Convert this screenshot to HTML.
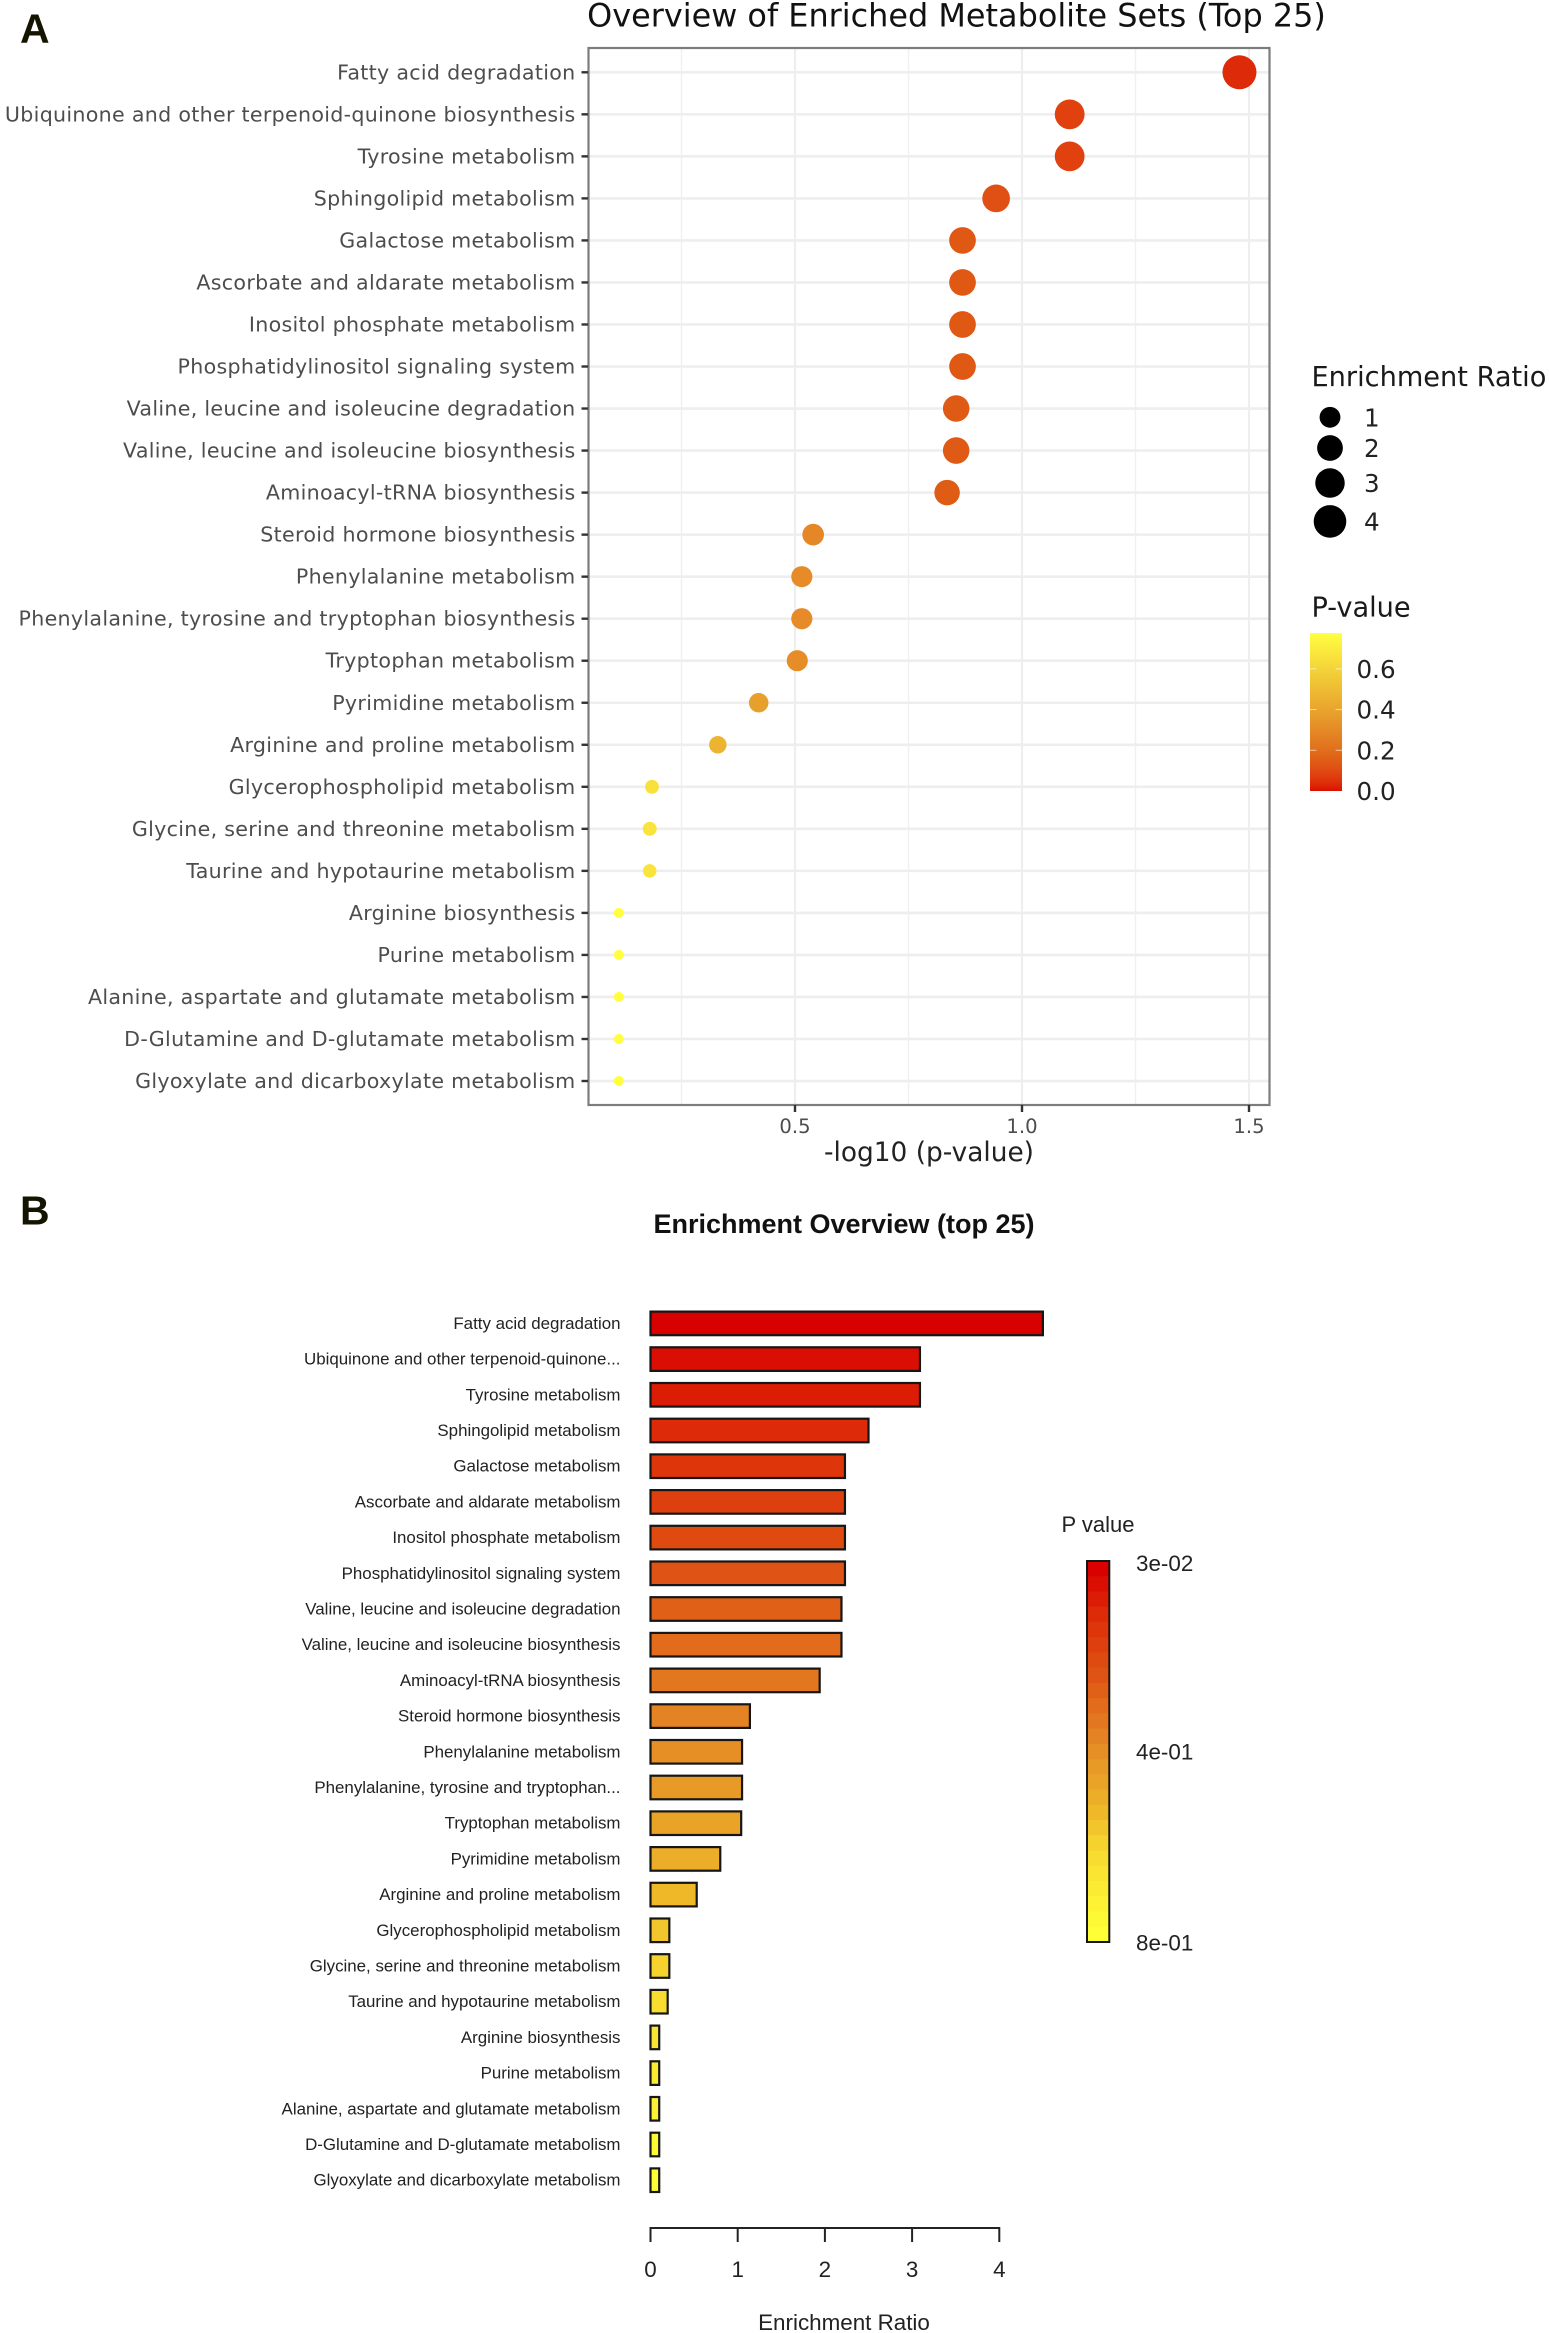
<!DOCTYPE html>
<html lang="en">
<head>
<meta charset="utf-8">
<title>Enriched Metabolite Sets</title>
<style>
html,body{margin:0;padding:0;background:#fff;}
svg{display:block;}
.dj{font-family:"DejaVu Sans",sans-serif;}
.lb{font-family:"Liberation Sans",sans-serif;}
</style>
</head>
<body>
<svg id="fig" width="1549" height="2333" viewBox="0 0 1549 2333" xmlns="http://www.w3.org/2000/svg">
  <rect x="0" y="0" width="1549" height="2333" fill="#fff"/>
  <text class="lb" x="20" y="42.5" font-size="41" font-weight="bold" fill="#141400">A</text>
  <text class="lb" x="20" y="1224.5" font-size="41" font-weight="bold" fill="#141400">B</text>

  <text class="dj" x="956.5" y="26.5" font-size="31.9" text-anchor="middle" fill="#111">Overview of Enriched Metabolite Sets (Top 25)</text>
  <g id="dotGrid"></g>
  <g id="dotMarks"></g>
  <rect x="588.5" y="48" width="681" height="1057" fill="none" stroke="#7c7c7c" stroke-width="2.2"/>
  <g id="dotYAxis"></g>
  <g id="dotXAxis"></g>
  <text class="dj" x="929" y="1161" font-size="26.4" text-anchor="middle" fill="#222">-log10 (p-value)</text>

  <text class="dj" x="1311.5" y="386" font-size="27.2" fill="#1a1a1a">Enrichment Ratio</text>
  <g id="sizeLegend"></g>
  <text class="dj" x="1311.5" y="616.5" font-size="27.2" fill="#1a1a1a">P-value</text>
  <defs>
    <linearGradient id="pGrad" x1="0" y1="1" x2="0" y2="0"></linearGradient>
  </defs>
  <rect x="1310" y="633" width="32" height="158" fill="url(#pGrad)"/>
  <g id="colorLegend"></g>

  <text class="lb" x="844" y="1233" font-size="27" font-weight="bold" text-anchor="middle" fill="#111">Enrichment Overview (top 25)</text>
  <g id="barLabelsG"></g>
  <g id="barMarks"></g>
  <g id="barAxis"></g>
  <text class="lb" x="844" y="2330" font-size="22.4" text-anchor="middle" fill="#222">Enrichment Ratio</text>
  <text class="lb" x="1061.5" y="1532" font-size="22" fill="#222">P value</text>
  <g id="barLegend"></g>
  <text class="lb" x="1136" y="1571" font-size="22.4" fill="#222">3e-02</text>
  <text class="lb" x="1136" y="1759.5" font-size="22.4" fill="#222">4e-01</text>
  <text class="lb" x="1136" y="1950.5" font-size="22.4" fill="#222">8e-01</text>
</svg>
<script>
const categories = [
  "Fatty acid degradation",
  "Ubiquinone and other terpenoid-quinone biosynthesis",
  "Tyrosine metabolism",
  "Sphingolipid metabolism",
  "Galactose metabolism",
  "Ascorbate and aldarate metabolism",
  "Inositol phosphate metabolism",
  "Phosphatidylinositol signaling system",
  "Valine, leucine and isoleucine degradation",
  "Valine, leucine and isoleucine biosynthesis",
  "Aminoacyl-tRNA biosynthesis",
  "Steroid hormone biosynthesis",
  "Phenylalanine metabolism",
  "Phenylalanine, tyrosine and tryptophan biosynthesis",
  "Tryptophan metabolism",
  "Pyrimidine metabolism",
  "Arginine and proline metabolism",
  "Glycerophospholipid metabolism",
  "Glycine, serine and threonine metabolism",
  "Taurine and hypotaurine metabolism",
  "Arginine biosynthesis",
  "Purine metabolism",
  "Alanine, aspartate and glutamate metabolism",
  "D-Glutamine and D-glutamate metabolism",
  "Glyoxylate and dicarboxylate metabolism"
];
const barLabels = [
  "Fatty acid degradation",
  "Ubiquinone and other terpenoid-quinone...",
  "Tyrosine metabolism",
  "Sphingolipid metabolism",
  "Galactose metabolism",
  "Ascorbate and aldarate metabolism",
  "Inositol phosphate metabolism",
  "Phosphatidylinositol signaling system",
  "Valine, leucine and isoleucine degradation",
  "Valine, leucine and isoleucine biosynthesis",
  "Aminoacyl-tRNA biosynthesis",
  "Steroid hormone biosynthesis",
  "Phenylalanine metabolism",
  "Phenylalanine, tyrosine and tryptophan...",
  "Tryptophan metabolism",
  "Pyrimidine metabolism",
  "Arginine and proline metabolism",
  "Glycerophospholipid metabolism",
  "Glycine, serine and threonine metabolism",
  "Taurine and hypotaurine metabolism",
  "Arginine biosynthesis",
  "Purine metabolism",
  "Alanine, aspartate and glutamate metabolism",
  "D-Glutamine and D-glutamate metabolism",
  "Glyoxylate and dicarboxylate metabolism"
];
const negLogP = [1.479,1.105,1.105,0.943,0.869,0.869,0.869,0.869,0.855,0.855,0.835,0.54,0.515,0.515,0.505,0.42,0.33,0.185,0.18,0.18,0.112,0.112,0.112,0.112,0.112];
const enrichmentRatio = [4.5,3.09,3.09,2.5,2.23,2.23,2.23,2.23,2.19,2.19,1.94,1.14,1.05,1.05,1.04,0.8,0.53,0.216,0.216,0.197,0.1,0.1,0.1,0.1,0.1];
const dotXTicks = [0.5,1.0,1.5];
const dotXMinor = [0.25,0.75,1.25];
const sizeLegendValues = [1,2,3,4];
const pLegendTicks = [0,0.2,0.4,0.6];
const barXTicks = [0,1,2,3,4];

const pStops = [[0,"#dc1000"],[0.033,"#dd2a08"],[0.078,"#e0410f"],[0.114,"#e05014"],[0.14,"#df5a14"],[0.2,"#e16f1c"],[0.29,"#e58726"],[0.38,"#e8a02c"],[0.47,"#edb532"],[0.6,"#f3d43a"],[0.65,"#f9e03c"],[0.776,"#ffff40"]];
const rankStops = [[0,"#d90000"],[0.125,"#dd2a08"],[0.29,"#df5414"],[0.458,"#e48324"],[0.54,"#e79a26"],[0.667,"#eeb829"],[0.75,"#f5d22e"],[0.833,"#fae632"],[1,"#ffff36"]];

const NS = "http://www.w3.org/2000/svg";
function mk(parent, tag, attrs, txt){
  const el = document.createElementNS(NS, tag);
  for (const k in attrs) el.setAttribute(k, attrs[k]);
  if (txt !== undefined) el.textContent = txt;
  document.getElementById(parent).appendChild(el);
  return el;
}
function hex(c){return [1,3,5].map(i=>parseInt(c.substr(i,2),16));}
function ramp(stops, t){
  if (t <= stops[0][0]) return stops[0][1];
  for (let i=1;i<stops.length;i++){
    if (t <= stops[i][0]){
      const a=stops[i-1], b=stops[i], f=(t-a[0])/(b[0]-a[0]);
      const ca=hex(a[1]), cb=hex(b[1]);
      return "rgb("+ca.map((v,j)=>Math.round(v+(cb[j]-v)*f)).join(",")+")";
    }
  }
  return stops[stops.length-1][1];
}
const dotX = v => 795 + (v-0.5)*454;
const dotY = i => 72.3 + i*42.03;
const minER = Math.min(...enrichmentRatio), maxER = Math.max(...enrichmentRatio);
const dotR = v => 5 + 12*Math.sqrt(Math.max(0,(v-minER)/(maxER-minER)));
const barX = v => 650.5 + v*87.2;
const barY = i => 1323.4 + i*35.7;
const pLegendY = p => 791 - p*203.6;

/* Panel A grid */
dotXMinor.forEach(v=>{
  const el = mk("dotGrid","line",{x1:dotX(v),x2:dotX(v),y1:48,y2:1105,stroke:"#f0f0f0","stroke-width":1.4});
  
  
});
dotXTicks.forEach(v=>{
  const el = mk("dotGrid","line",{x1:dotX(v),x2:dotX(v),y1:48,y2:1105,stroke:"#eeeeee","stroke-width":2.2});
  
  
});
categories.forEach((c,i)=>{
  const g = mk("dotGrid","line",{x1:588,x2:1270,y1:dotY(i),y2:dotY(i),stroke:"#eeeeee","stroke-width":2.6});
  
  
  const t = mk("dotYAxis","line",{x1:581.5,x2:588,y1:dotY(i),y2:dotY(i),stroke:"#333","stroke-width":2.4});
  
  
  const l = mk("dotYAxis","text",{x:575.5,y:dotY(i)+7,"text-anchor":"end","font-size":20.6,"letter-spacing":0.3,fill:"#4d4d4d","class":"dj"},c);
  
  
  const d = mk("dotMarks","circle",{cx:dotX(negLogP[i]),cy:dotY(i),r:dotR(enrichmentRatio[i]),fill:ramp(pStops,Math.pow(10,-negLogP[i]))});
  
  
});
dotXTicks.forEach(v=>{
  const t = mk("dotXAxis","line",{x1:dotX(v),x2:dotX(v),y1:1105,y2:1112,stroke:"#333","stroke-width":2.4});
  
  
  const l = mk("dotXAxis","text",{x:dotX(v),y:1133,"text-anchor":"middle","font-size":19.6,fill:"#4d4d4d","class":"dj"},v.toFixed(1));
  
  
});

/* Size legend */
let legendCursor = 417.3;
sizeLegendValues.forEach((v,i)=>{
  if (i>0) legendCursor += dotR(sizeLegendValues[i-1]) + dotR(v) + 7.4;
  const c = mk("sizeLegend","circle",{cx:1330,cy:legendCursor,r:dotR(v),fill:"#000"});
  
  
  const l = mk("sizeLegend","text",{x:1364,y:legendCursor+9,"font-size":24.6,fill:"#222","class":"dj"},String(v));
  
  
});

/* Colour legend A */
pStops.forEach(s=>{
  const st = document.createElementNS(NS,"stop");
  st.setAttribute("offset",(s[0]/0.776*100)+"%");
  st.setAttribute("stop-color",s[1]);
  document.getElementById("pGrad").appendChild(st);
});
pLegendTicks.forEach(p=>{
  if (p>0){
    const a = mk("colorLegend","line",{x1:1310,x2:1316.4,y1:pLegendY(p),y2:pLegendY(p),stroke:"#fff","stroke-opacity":0.6,"stroke-width":1});
    
    
    const b = mk("colorLegend","line",{x1:1335.6,x2:1342,y1:pLegendY(p),y2:pLegendY(p),stroke:"#fff","stroke-opacity":0.6,"stroke-width":1});
    
    
  }
  const l = mk("colorLegend","text",{x:1356.5,y:pLegendY(p)+9,"font-size":24.6,fill:"#222","class":"dj"},p.toFixed(1));
  
  
});

/* Panel B bars */
barLabels.forEach((c,i)=>{
  const l = mk("barLabelsG","text",{x:620.5,y:barY(i)+5.5,"text-anchor":"end","font-size":16.9,fill:"#222","class":"lb"},c);
  
  
  const b = mk("barMarks","rect",{x:barX(0),y:barY(i)-11.8,width:barX(enrichmentRatio[i])-barX(0),height:23.6,fill:ramp(rankStops,i/(barLabels.length-1)),stroke:"#161616","stroke-width":2.2});
  
  
});
const barLine = mk("barAxis","line",{x1:barX(barXTicks[0]),x2:barX(barXTicks[barXTicks.length-1]),y1:2228,y2:2228,stroke:"#222","stroke-width":2});


barXTicks.forEach(v=>{
  const t = mk("barAxis","line",{x1:barX(v),x2:barX(v),y1:2227,y2:2242,stroke:"#222","stroke-width":2});
  
  
  const l = mk("barAxis","text",{x:barX(v),y:2277,"text-anchor":"middle","font-size":22.4,fill:"#222","class":"lb"},String(v));
  
  
});

/* Colour legend B */
barLabels.forEach((c,i)=>{
  const n = barLabels.length, h = (1942-1561)/n;
  const r = mk("barLegend","rect",{x:1087,y:1561+i*h,width:22.3,height:h+0.5,fill:ramp(rankStops,i/(n-1))});
  
  
});
const lb = mk("barLegend","rect",{x:1087,y:1561,width:22.3,height:381,fill:"none",stroke:"#161616","stroke-width":2});


</script>
</body>
</html>
